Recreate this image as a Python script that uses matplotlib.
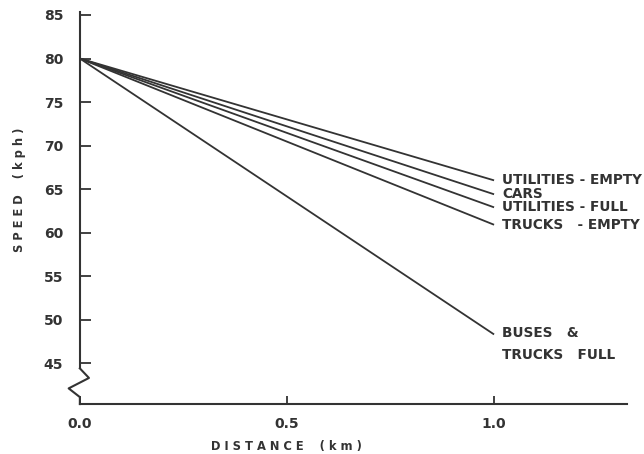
import matplotlib.pyplot as plt
import numpy as np

# 数据
distance = [0.0, 1.0]
start_speed = 80
vehicles = ["UTILITIES - EMPTY", "CARS", "UTILITIES - FULL", "TRUCKS   - EMPTY", "BUSES   &\nTRUCKS   FULL"]
end_speed = [66.0, 64.4, 62.9, 60.9, 48.3]

y_ticks = [45, 50, 55, 60, 65, 70, 75, 80, 85]
x_ticks = [0.0, 0.5, 1.0]
x_labels = ["0.0", "0.5", "1.0"]

ink = "#333333"
plt.rcParams['font.family'] = ['DejaVu Sans']

fig = plt.figure(figsize=(6.44, 4.54), dpi=100)
ax = fig.add_axes([0.124, 0.110, 0.849, 0.857])

for name, end in zip(vehicles, end_speed):
    ax.plot(distance, [start_speed, end], color=ink, linewidth=1.3, solid_capstyle='butt')
    if "\n" in name:
        ax.annotate(name, (distance[-1], end), xytext=(6, 6), textcoords='offset points',
                    ha='left', va='top', fontsize=9.8, fontweight='bold', color=ink,
                    linespacing=1.75)
    else:
        ax.annotate(name, (distance[-1], end), xytext=(6, 0), textcoords='offset points',
                    ha='left', va='center', fontsize=9.8, fontweight='bold', color=ink)

ax.set_xlim(0, 1.32)
ax.set_ylim(40.3, 85)

# 坐标轴
for s in ['top', 'right']:
    ax.spines[s].set_visible(False)
ax.spines['left'].set_bounds(44.4, 85.3)
ax.spines['left'].set_color(ink)
ax.spines['bottom'].set_color(ink)
ax.spines['left'].set_linewidth(1.5)
ax.spines['bottom'].set_linewidth(1.5)

# 断轴折线
zx = [0, 0.022, -0.027, 0, 0]
zy = [44.4, 43.3, 42.1, 41.1, 40.3]
ax.plot(zx, zy, color=ink, linewidth=1.5, clip_on=False)

ax.set_yticks(y_ticks)
ax.set_xticks(x_ticks, x_labels)
ax.tick_params(axis='y', direction='in', length=8, width=1.3, color=ink, pad=12,
               labelsize=10, labelcolor=ink)
ax.tick_params(axis='x', direction='in', length=6, width=1.3, color=ink, pad=9,
               labelsize=10, labelcolor=ink)
for lab in ax.get_xticklabels() + ax.get_yticklabels():
    lab.set_fontweight('bold')

ax.set_xlabel("D I S T A N C E    ( k m )", fontsize=8.3, fontweight='bold', color=ink,
              va='center')
ax.xaxis.set_label_coords(0.378, -0.11)
ax.set_ylabel("S P E E D    ( k p h )", fontsize=8.3, fontweight='bold', color=ink,
              va='center')
ax.yaxis.set_label_coords(-0.11, 0.55)

plt.savefig("out.png", dpi=100)
